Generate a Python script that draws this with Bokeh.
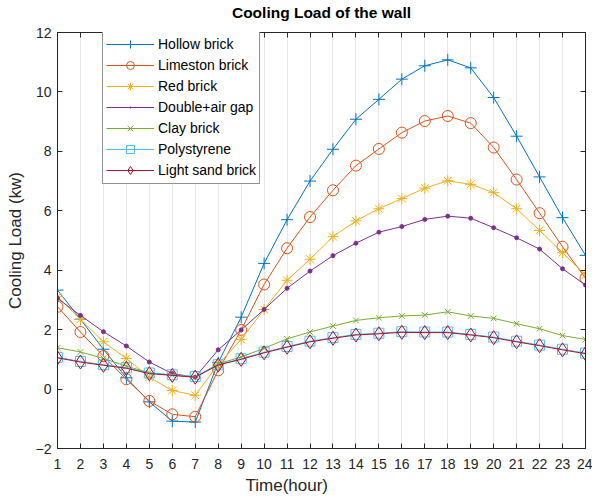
from bokeh.plotting import figure
from bokeh.models import FixedTicker, LinearAxis, Range1d, CustomJSTickFormatter, Legend, Title
from bokeh.embed import file_html
from bokeh.resources import INLINE

hours = list(range(1, 25))
hollow = [3.33, 2.35, 1.34, 0.38, -0.43, -1.08, -1.11, 0.89, 2.42, 4.23, 5.70, 7.00, 8.07, 9.08, 9.75, 10.43, 10.88, 11.08, 10.81, 9.81, 8.51, 7.14, 5.77, 4.50]
limestone = [2.77, 1.92, 1.11, 0.33, -0.40, -0.85, -0.93, 0.63, 1.99, 3.52, 4.74, 5.79, 6.69, 7.52, 8.08, 8.63, 9.02, 9.19, 8.95, 8.13, 7.05, 5.92, 4.79, 3.73]
red = [3.11, 2.35, 1.59, 1.03, 0.40, -0.05, -0.21, 0.83, 1.67, 2.68, 3.66, 4.37, 5.13, 5.66, 6.07, 6.41, 6.76, 7.01, 6.89, 6.61, 6.07, 5.34, 4.59, 3.84]
double_air = [3.05, 2.48, 1.93, 1.45, 0.91, 0.52, 0.40, 1.32, 1.99, 2.68, 3.39, 3.97, 4.49, 4.91, 5.28, 5.47, 5.71, 5.82, 5.75, 5.43, 5.09, 4.71, 4.05, 3.50]
clay = [1.39, 1.25, 1.03, 0.77, 0.55, 0.47, 0.40, 0.85, 1.08, 1.37, 1.69, 1.92, 2.12, 2.31, 2.40, 2.46, 2.49, 2.60, 2.46, 2.38, 2.20, 2.03, 1.80, 1.67]
polystyrene = [1.07, 0.93, 0.82, 0.72, 0.54, 0.48, 0.42, 0.82, 1.02, 1.24, 1.43, 1.61, 1.73, 1.84, 1.88, 1.93, 1.92, 1.92, 1.84, 1.75, 1.61, 1.48, 1.34, 1.21]
light_sand = [1.05, 0.91, 0.80, 0.70, 0.52, 0.46, 0.40, 0.81, 1.00, 1.22, 1.41, 1.59, 1.71, 1.82, 1.86, 1.91, 1.90, 1.90, 1.82, 1.73, 1.59, 1.46, 1.32, 1.19]

labels = ["Hollow brick", "Limeston brick", "Red brick", "Double+air gap", "Clay brick", "Polystyrene", "Light sand brick"]
colors = ["#0072BD", "#D95319", "#EDB120", "#7E2F8E", "#77AC30", "#4DBEEE", "#A2142F"]
series = [hollow, limestone, red, double_air, clay, polystyrene, light_sand]
y_ticks = [-2, 0, 2, 4, 6, 8, 10, 12]

FONT = "Liberation Sans"

p = figure(width=592, height=497, output_backend="svg", toolbar_location=None,
           x_range=Range1d(1, 24), y_range=Range1d(-2, 12),
           min_border_left=57, min_border_right=7, min_border_top=32, min_border_bottom=49)

p.title.text = "Cooling Load of the wall"
p.title.align = "center"
p.title.text_font = FONT
p.title.text_font_size = "15.5px"
p.title.text_font_style = "bold"
p.title.text_color = "black"
p.title.standoff = 0
p.title.text_line_height = 1.0

p.outline_line_color = "#262626"
p.outline_line_alpha = 1
p.background_fill_color = "white"
p.border_fill_color = "white"

p.xgrid.ticker = FixedTicker(ticks=hours)
p.xgrid.grid_line_color = "#e6e6e6"
p.ygrid.grid_line_color = None

for ax in (p.xaxis[0], p.yaxis[0]):
    ax.major_tick_in = 5
    ax.major_tick_out = 0
    ax.minor_tick_line_color = None
    ax.axis_line_color = "#262626"
    ax.major_tick_line_color = "#262626"
    ax.major_label_text_font = FONT
    ax.major_label_text_font_size = "14px"
    ax.major_label_text_color = "#262626"
    ax.axis_label_text_font = FONT
    ax.axis_label_text_font_size = "17px"
    ax.axis_label_text_font_style = "normal"
    ax.axis_label_text_color = "#262626"

p.xaxis.ticker = FixedTicker(ticks=hours)
p.yaxis.ticker = FixedTicker(ticks=y_ticks)
p.yaxis.axis_label = "Cooling Load (kw)"
p.xaxis.major_label_standoff = 10
p.yaxis.major_label_standoff = 6
p.yaxis.axis_label_standoff = 8

xlab = Title(text="Time(hour)", align="left", offset=188, text_font=FONT, text_font_size="17px",
             text_font_style="normal", text_color="#262626", standoff=5)
p.add_layout(xlab, "below")

blank = CustomJSTickFormatter(code="return ''")
top = LinearAxis(ticker=FixedTicker(ticks=hours), formatter=blank, major_tick_in=5, major_tick_out=0,
                 minor_tick_line_color=None, major_label_standoff=0, major_label_text_font_size="0px",
                 axis_line_color="#262626", major_tick_line_color="#262626",
                 axis_label=" ", axis_label_text_font_size="8px", axis_label_standoff=0)
right = LinearAxis(ticker=FixedTicker(ticks=y_ticks), formatter=blank, major_tick_in=5, major_tick_out=0,
                   minor_tick_line_color=None, major_label_standoff=0, major_label_text_font_size="0px",
                   axis_line_color="#262626", major_tick_line_color="#262626")
p.add_layout(top, "above")
p.add_layout(right, "right")

items = []
for i, (lab, col, ys) in enumerate(zip(labels, colors, series)):
    r_line = p.line(hours, ys, line_color=col, line_width=1)
    leg = None
    if i == 0:
        r_m = p.scatter(hours, ys, marker="cross", size=12, line_color=col, line_width=1)
    elif i == 1:
        r_m = p.scatter(hours, ys, marker="circle", size=11, line_color=col, fill_color=None, line_width=1)
    elif i == 2:
        r_m = p.scatter(hours, ys, marker="asterisk", size=11, line_color=col, line_width=1)
    elif i == 3:
        r_m = p.scatter(hours, ys, marker="circle", size=4, line_color=col, fill_color=col)
        leg = p.scatter([-100], [-100], marker="dot", size=20, line_color=col, fill_color=col, line_width=3)
    elif i == 4:
        r_m = p.scatter(hours, ys, marker="x", size=8, line_color=col, line_width=1)
    elif i == 5:
        r_m = p.scatter(hours, ys, marker="square", size=10, line_color=col, fill_color=None, line_width=1)
    else:
        r_m = p.scatter(hours, ys, marker="diamond", size=14, line_color=col, fill_color=None, line_width=1)
    items.append((lab, [r_line, leg if leg is not None else r_m]))

legend = Legend(items=items, location=(45, 264))
legend.label_text_font = FONT
legend.label_text_font_size = "14px"
legend.label_text_color = "black"
legend.glyph_width = 48
legend.glyph_height = 20
legend.label_height = 20
legend.spacing = 1
legend.padding = 3
legend.margin = 0
legend.label_standoff = 4
legend.border_line_color = "#262626"
legend.background_fill_alpha = 1
p.add_layout(legend, "center")

open("out.html", "w").write(file_html(p, INLINE))
